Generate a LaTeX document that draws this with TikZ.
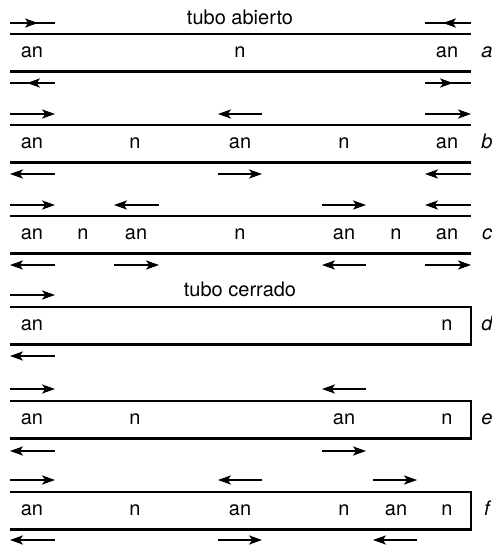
\documentclass[tikz,border=0pt]{standalone}
\usepackage{fontspec}
\setmainfont{TeX Gyre Heros}
\usetikzlibrary{arrows.meta}

\begin{document}
\begin{tikzpicture}[
  x=0.5pt, y=-0.5pt,
  line join=miter,
  tube/.style={line width=1.1pt},
  wave/.style={line width=0.55pt, -{Stealth[length=6.5pt,width=4.6pt,inset=1.6pt]}},
  bare/.style={line width=0.55pt},
  lbl/.style={inner sep=0pt, anchor=base, font=\fontsize{10}{12}\selectfont},
  tag/.style={lbl, font=\fontsize{10}{12}\selectfont\itshape}
]
  \def\h{37.5}
  \def\xl{10}
  \def\xr{471}

  \useasboundingbox (0,0) rectangle (492,546);

  % Tubos (0 = abierto, 1 = cerrado)
  \foreach \n/\y/\shut in {a/34/0,b/125/0,c/216/0,d/307/1,e/401/1,f/492/1}{
    \ifnum\shut=1
      \draw[tube] (\xl,\y) -- (\xr,\y) -- (\xr,\y+\h) -- (\xl,\y+\h);
    \else
      \draw[tube] (\xl,\y) -- (\xr,\y);
      \draw[tube] (\xl,\y+\h) -- (\xr,\y+\h);
    \fi
    \node[tag] (tag-\n) at (487,\y+23.5) {\n};
  }

  % Titulos
  \node[lbl] (abierto) at (240,24.5) {tubo abierto};
  \node[lbl] (cerrado) at (240,296.5) {tubo cerrado};

  % Nodos y antinodos
  \foreach \n/\y/\marks in {
    a/34/{32/an,240/n,447/an},
    b/125/{32/an,135/n,240/an,344/n,447/an},
    c/216/{32/an,83/n,136/an,240/n,344/an,396/n,447/an},
    d/307/{32/an,447/n},
    e/401/{32/an,135/n,344/an,447/n},
    f/492/{32/an,135/n,240/an,344/n,396/an,447/n}}{
    \foreach \x/\t [count=\i] in \marks
      \node[lbl] (\n-\i) at (\x,\y+23.5) {\t};
  }

  % Ondas del tubo a (punta en medio)
  \draw[bare] (10,23) -- (55,23);
  \draw[wave] (10,23) -- (38,23);
  \draw[bare] (55,83) -- (10,83);
  \draw[wave] (55,83) -- (27,83);
  \draw[bare] (471,23) -- (425,23);
  \draw[wave] (471,23) -- (443,23);
  \draw[bare] (425,83) -- (471,83);
  \draw[wave] (425,83) -- (453,83);

  % Ondas de los tubos b--f
  \foreach \y/\arrs in {
    114/{10/55,262/218,425/471},
    174/{55/10,218/262,471/425},
    205/{10/55,159/114,322/366,471/425},
    265/{55/10,114/159,366/322,425/471},
    295/{10/55},
    356/{55/10},
    389/{10/55,366/322},
    451/{55/10,322/366},
    480/{10/55,262/218,373/417},
    540/{55/10,218/262,417/373}}{
    \foreach \p/\q in \arrs
      \draw[wave] (\p,\y) -- (\q,\y);
  }
\end{tikzpicture}
\end{document}
